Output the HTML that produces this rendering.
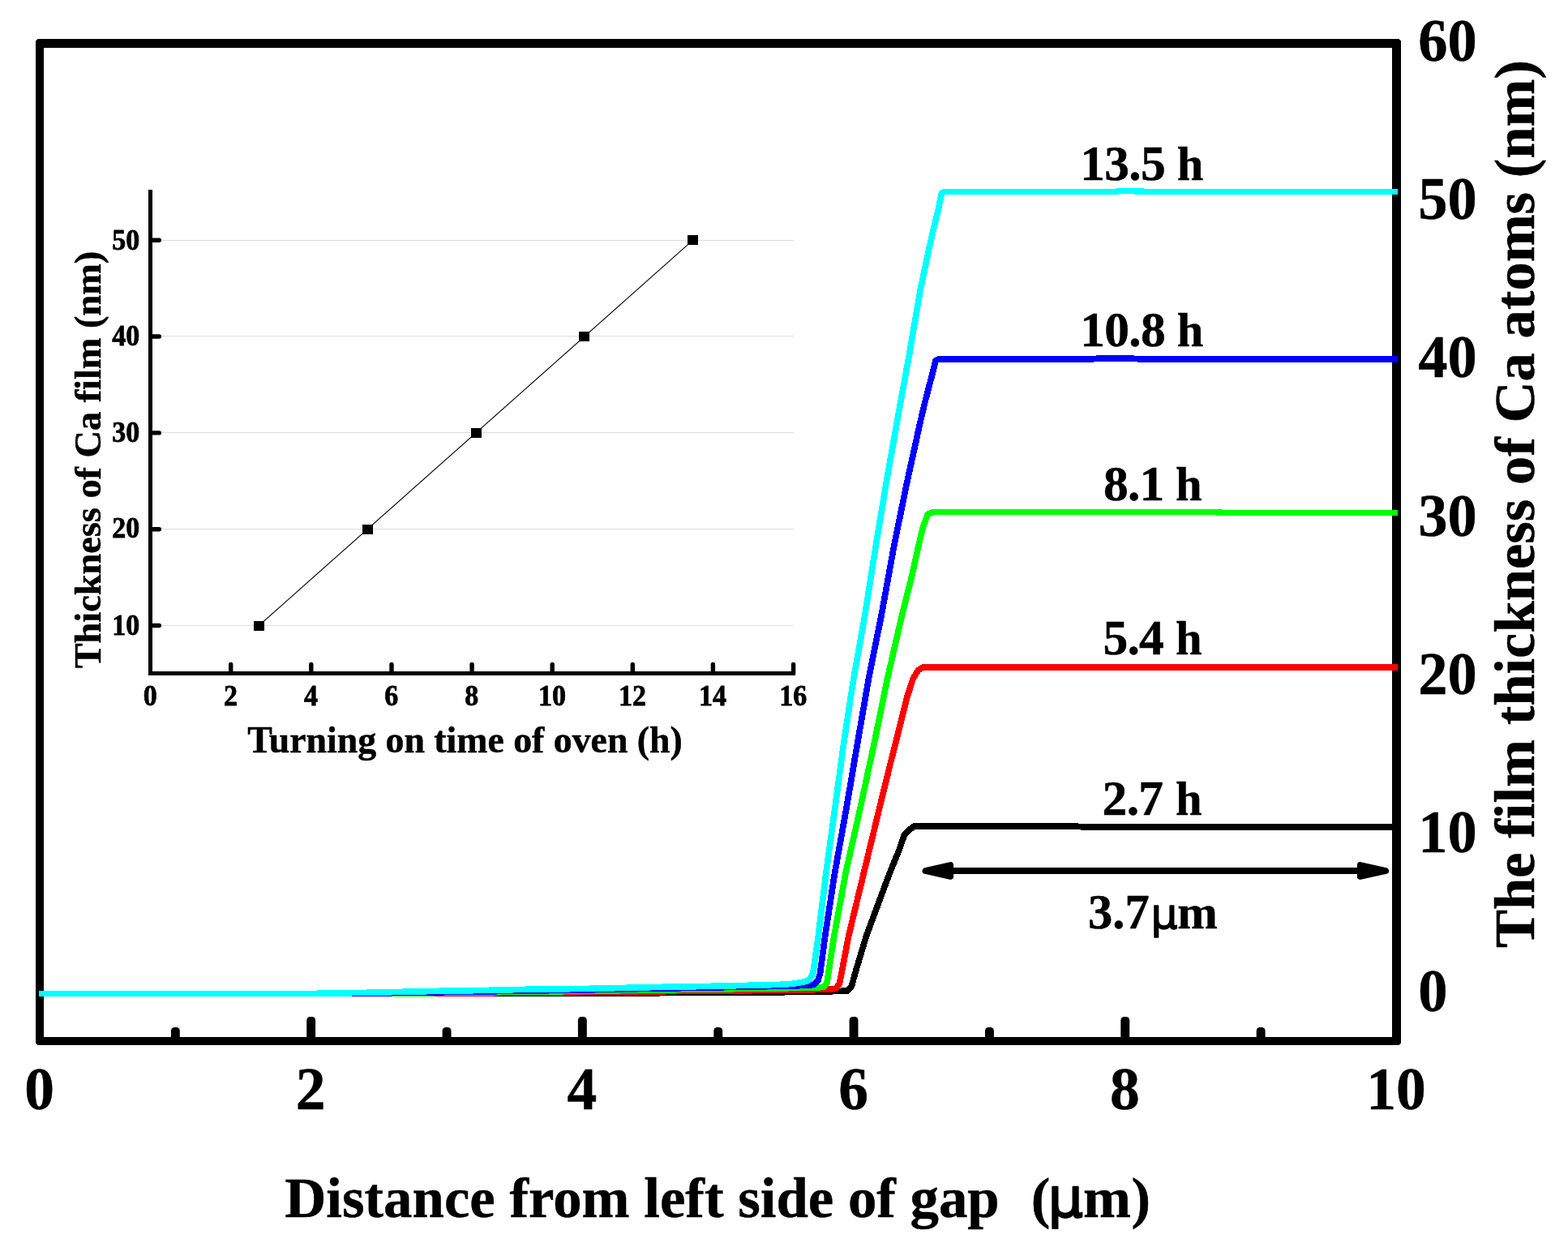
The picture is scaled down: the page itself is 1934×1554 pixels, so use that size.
<!DOCTYPE html>
<html lang="en">
<head>
<meta charset="utf-8">
<title>Figure</title>
<style>html,body{margin:0;padding:0;background:#fff;overflow:hidden}svg{display:block}text{stroke:#000;stroke-width:0.5px;stroke-linejoin:round}</style>
</head>
<body>
<svg width="1934" height="1554" viewBox="0 0 1934 1554" font-family="'Liberation Serif', serif" font-weight="bold" fill="#000">
<rect x="0" y="0" width="1934" height="1554" fill="#fff"/>
<g id="inset">
<rect x="199" y="771" width="780" height="1" fill="#dcdcdc"/>
<rect x="199" y="652" width="780" height="1" fill="#dcdcdc"/>
<rect x="199" y="533" width="780" height="1" fill="#dcdcdc"/>
<rect x="199" y="414" width="780" height="1" fill="#dcdcdc"/>
<rect x="199" y="296" width="780" height="1" fill="#dcdcdc"/>
<line x1="319.4" y1="771.5" x2="854.7" y2="296.2" stroke="#000" stroke-width="1.1"/>
<rect x="313" y="766" width="13" height="12" fill="#000"/>
<rect x="447" y="647" width="13" height="12" fill="#000"/>
<rect x="581" y="528" width="13" height="12" fill="#000"/>
<rect x="714" y="409" width="13" height="12" fill="#000"/>
<rect x="848" y="290" width="13" height="12" fill="#000"/>
<path d="M183 234 H188 V828 H981 V833 H183 Z" fill="#000" stroke="none" shape-rendering="crispEdges"/>
<line x1="186" y1="771.5" x2="196.3" y2="771.5" stroke="#000" stroke-width="5.4" stroke-linecap="round"/>
<line x1="186" y1="652.7" x2="196.3" y2="652.7" stroke="#000" stroke-width="5.4" stroke-linecap="round"/>
<line x1="186" y1="533.9" x2="196.3" y2="533.9" stroke="#000" stroke-width="5.4" stroke-linecap="round"/>
<line x1="186" y1="415.0" x2="196.3" y2="415.0" stroke="#000" stroke-width="5.4" stroke-linecap="round"/>
<line x1="186" y1="296.2" x2="196.3" y2="296.2" stroke="#000" stroke-width="5.4" stroke-linecap="round"/>
<line x1="284.7" y1="830" x2="284.7" y2="819.4" stroke="#000" stroke-width="5.4" stroke-linecap="round"/>
<line x1="383.8" y1="830" x2="383.8" y2="819.4" stroke="#000" stroke-width="5.4" stroke-linecap="round"/>
<line x1="483.0" y1="830" x2="483.0" y2="819.4" stroke="#000" stroke-width="5.4" stroke-linecap="round"/>
<line x1="582.1" y1="830" x2="582.1" y2="819.4" stroke="#000" stroke-width="5.4" stroke-linecap="round"/>
<line x1="681.2" y1="830" x2="681.2" y2="819.4" stroke="#000" stroke-width="5.4" stroke-linecap="round"/>
<line x1="780.3" y1="830" x2="780.3" y2="819.4" stroke="#000" stroke-width="5.4" stroke-linecap="round"/>
<line x1="879.4" y1="830" x2="879.4" y2="819.4" stroke="#000" stroke-width="5.4" stroke-linecap="round"/>
<line x1="978.6" y1="830" x2="978.6" y2="819.4" stroke="#000" stroke-width="5.4" stroke-linecap="round"/>
<text transform="translate(172.3 782.8) scale(0.93 1)" font-size="36.6" text-anchor="end" style="stroke-width:0.8px">10</text>
<text transform="translate(172.3 663.0) scale(0.93 1)" font-size="36.6" text-anchor="end" style="stroke-width:0.8px">20</text>
<text transform="translate(172.3 544.5) scale(0.93 1)" font-size="36.6" text-anchor="end" style="stroke-width:0.8px">30</text>
<text transform="translate(172.3 425.8) scale(0.93 1)" font-size="36.6" text-anchor="end" style="stroke-width:0.8px">40</text>
<text transform="translate(172.3 307.9) scale(0.93 1)" font-size="36.6" text-anchor="end" style="stroke-width:0.8px">50</text>
<text transform="translate(185.3 869.8) scale(0.93 1)" font-size="36.6" text-anchor="middle" style="stroke-width:0.8px">0</text>
<text transform="translate(284.4 869.8) scale(0.93 1)" font-size="36.6" text-anchor="middle" style="stroke-width:0.8px">2</text>
<text transform="translate(383.5 869.8) scale(0.93 1)" font-size="36.6" text-anchor="middle" style="stroke-width:0.8px">4</text>
<text transform="translate(482.7 869.8) scale(0.93 1)" font-size="36.6" text-anchor="middle" style="stroke-width:0.8px">6</text>
<text transform="translate(581.8 869.8) scale(0.93 1)" font-size="36.6" text-anchor="middle" style="stroke-width:0.8px">8</text>
<text transform="translate(680.9 869.8) scale(0.93 1)" font-size="36.6" text-anchor="middle" style="stroke-width:0.8px">10</text>
<text transform="translate(780.0 869.8) scale(0.93 1)" font-size="36.6" text-anchor="middle" style="stroke-width:0.8px">12</text>
<text transform="translate(879.1 869.8) scale(0.93 1)" font-size="36.6" text-anchor="middle" style="stroke-width:0.8px">14</text>
<text transform="translate(978.3 869.8) scale(0.93 1)" font-size="36.6" text-anchor="middle" style="stroke-width:0.8px">16</text>
<text x="573.6" y="928" font-size="45.8" text-anchor="middle">Turning on time of oven (h)</text>
<text transform="translate(124.2 567.1) rotate(-90) scale(0.998 1)" font-size="46.4" text-anchor="middle">Thickness of Ca film (nm)</text>
</g>
<g id="axes" fill="none" stroke="#000">
<path d="M46.5 48 H1725.5 L1728 50.5 V1286.5 L1725.5 1289 H46.5 L44 1286.5 V50.5 Z M54 59 V1279 H1717 V59 Z" fill="#000" fill-rule="evenodd" stroke="none"/>
<path d="M210.9 1282 V1271.4 a4.4 4.4 0 0 1 4.4 -4.4 h2.1 a4.4 4.4 0 0 1 4.4 4.4 V1282 Z" fill="#000" stroke="none"/>
<path d="M378.2 1282 V1258.4 a4.4 4.4 0 0 1 4.4 -4.4 h2.1 a4.4 4.4 0 0 1 4.4 4.4 V1282 Z" fill="#000" stroke="none"/>
<path d="M545.6 1282 V1271.4 a4.4 4.4 0 0 1 4.4 -4.4 h2.1 a4.4 4.4 0 0 1 4.4 4.4 V1282 Z" fill="#000" stroke="none"/>
<path d="M712.9 1282 V1258.4 a4.4 4.4 0 0 1 4.4 -4.4 h2.1 a4.4 4.4 0 0 1 4.4 4.4 V1282 Z" fill="#000" stroke="none"/>
<path d="M880.3 1282 V1271.4 a4.4 4.4 0 0 1 4.4 -4.4 h2.1 a4.4 4.4 0 0 1 4.4 4.4 V1282 Z" fill="#000" stroke="none"/>
<path d="M1047.6 1282 V1258.4 a4.4 4.4 0 0 1 4.4 -4.4 h2.1 a4.4 4.4 0 0 1 4.4 4.4 V1282 Z" fill="#000" stroke="none"/>
<path d="M1215.0 1282 V1271.4 a4.4 4.4 0 0 1 4.4 -4.4 h2.1 a4.4 4.4 0 0 1 4.4 4.4 V1282 Z" fill="#000" stroke="none"/>
<path d="M1382.3 1282 V1258.4 a4.4 4.4 0 0 1 4.4 -4.4 h2.1 a4.4 4.4 0 0 1 4.4 4.4 V1282 Z" fill="#000" stroke="none"/>
<path d="M1549.7 1282 V1271.4 a4.4 4.4 0 0 1 4.4 -4.4 h2.1 a4.4 4.4 0 0 1 4.4 4.4 V1282 Z" fill="#000" stroke="none"/>
</g>
<g id="curves" fill="none" stroke-width="7.7" stroke-linejoin="round" stroke-linecap="butt" shape-rendering="crispEdges">
<path d="M48.0 1225.5 L680.0 1225.5 L965.0 1223.7 L1020.0 1222.9 L1045.0 1222.1 L1050.5 1216.0 L1054.6 1200.8 L1068.5 1154.4 L1097.2 1077.2 L1109.8 1046.3 L1115.5 1029.5 L1121.0 1024.0 L1127.3 1019.0 L1326.0 1019.0 L1337.0 1020.0 L1724.0 1020.0" stroke="#000000"/>
<path d="M48.0 1225.5 L520.0 1225.5 L700.0 1223.8 L965.0 1221.3 L1020.0 1220.4 L1031.0 1219.5 L1035.5 1213.0 L1037.9 1200.8 L1046.7 1154.4 L1065.3 1077.2 L1083.9 1000.0 L1097.3 945.3 L1109.1 899.0 L1118.6 860.4 L1126.1 837.2 L1132.7 826.4 L1138.1 823.0 L1724.0 823.0" stroke="#ff0000"/>
<path d="M48.0 1225.5 L470.0 1225.5 L700.0 1222.6 L965.0 1218.8 L1006.0 1218.0 L1016.0 1217.4 L1020.0 1212.0 L1021.7 1200.8 L1028.8 1154.4 L1043.0 1077.2 L1060.3 1000.0 L1078.8 914.4 L1094.5 837.2 L1112.2 760.0 L1124.1 713.1 L1132.6 674.4 L1138.1 651.3 L1144.2 634.3 L1151.1 631.6 L1500.0 631.6 L1508.0 632.4 L1724.0 632.4" stroke="#00ff00"/>
<path d="M48.0 1225.5 L430.0 1225.5 L700.0 1221.3 L965.0 1216.3 L994.0 1215.4 L1004.0 1214.4 L1009.0 1209.0 L1011.5 1200.8 L1017.7 1154.4 L1029.5 1077.2 L1043.4 1000.0 L1058.0 914.4 L1071.4 837.2 L1086.9 760.0 L1102.5 674.4 L1118.2 597.2 L1135.2 520.0 L1140.8 496.2 L1148.9 465.3 L1154.1 444.5 L1158.0 443.0 L1344.0 443.0 L1356.0 442.1 L1395.0 442.1 L1408.0 443.0 L1724.0 443.0" stroke="#0000ff"/>
<path d="M48.0 1225.5 L366.0 1225.5 L388.3 1225.4 L450.3 1224.4 L494.2 1223.4 L538.0 1222.4 L600.9 1221.4 L643.9 1220.4 L724.8 1219.4 L769.5 1218.4 L814.2 1217.4 L875.4 1216.4 L920.1 1215.4 L961.4 1214.4 L978.0 1213.3 L988.0 1211.6 L996.0 1209.9 L1000.5 1205.0 L1002.7 1200.8 L1009.3 1154.4 L1018.8 1077.2 L1029.4 1000.0 L1041.0 914.4 L1052.8 837.2 L1066.6 760.0 L1080.1 674.4 L1092.8 597.2 L1106.5 520.0 L1121.6 437.0 L1127.7 400.8 L1135.5 355.8 L1145.6 308.1 L1152.0 280.0 L1156.6 261.8 L1161.4 238.6 L1164.1 236.5 L1376.0 236.5 L1380.0 235.6 L1398.0 235.6 L1413.0 236.5 L1724.0 236.5" stroke="#00ffff"/>
</g>
<g id="arrow">
<line x1="1170" y1="1074" x2="1680" y2="1074" stroke="#000" stroke-width="8"/>
<path d="M1141.4 1074 L1172.3 1066.9 V1081.1 Z" fill="#000" stroke="#000" stroke-width="7.6" stroke-linejoin="round"/>
<path d="M1709.3 1074 L1677.7 1066.9 V1081.1 Z" fill="#000" stroke="#000" stroke-width="7.6" stroke-linejoin="round"/>
</g>
<g id="labels" font-size="61.5">
<text x="1332.2" y="221.7" letter-spacing="-0.7">13.5 <tspan x="1451.7" font-size="58.6">h</tspan></text>
<text x="1332.2" y="427.1" letter-spacing="-0.7">10.8 <tspan x="1451.7" font-size="58.6">h</tspan></text>
<text x="1360.9" y="616.5" letter-spacing="-0.7">8.1 <tspan x="1450.0" font-size="58.6">h</tspan></text>
<text x="1360.4" y="807.3" letter-spacing="-0.7">5.4 <tspan x="1450.0" font-size="58.6">h</tspan></text>
<text x="1359.6" y="1004.5" letter-spacing="-0.7">2.7 <tspan x="1450.0" font-size="58.6">h</tspan></text>
<text x="1342" y="1144.9" font-size="60.5">3.7<tspan x="1419.4" font-family="'DejaVu Sans', 'Liberation Sans', sans-serif" font-weight="normal" font-size="52" style="stroke-width:1.4px">μ</tspan><tspan x="1452.3" font-size="59.5">m</tspan></text>
</g>
<g id="ticklabels" font-size="73.5">
<text x="48.5" y="1367.9" text-anchor="middle">0</text>
<text x="383.2" y="1367.9" text-anchor="middle">2</text>
<text x="717.9" y="1367.9" text-anchor="middle">4</text>
<text x="1052.6" y="1367.9" text-anchor="middle">6</text>
<text x="1387.3" y="1367.9" text-anchor="middle">8</text>
<text x="1722.0" y="1367.9" text-anchor="middle">10</text>
<text transform="translate(1749.3 75.0) scale(0.985 1)">60</text>
<text transform="translate(1749.3 270.0) scale(0.985 1)">50</text>
<text transform="translate(1749.3 465.3) scale(0.985 1)">40</text>
<text transform="translate(1749.3 660.7) scale(0.985 1)">30</text>
<text transform="translate(1749.3 855.6) scale(0.985 1)">20</text>
<text transform="translate(1749.3 1050.6) scale(0.985 1)">10</text>
<text transform="translate(1749.3 1247.3) scale(0.985 1)">0</text>
</g>
<text x="351.2" y="1501.3" font-size="70.8" style="white-space:pre">Distance from left side of gap  <tspan x="1271.8">(</tspan><tspan x="1292.4" font-family="'DejaVu Sans', 'Liberation Sans', sans-serif" font-weight="normal" font-size="68.5" style="stroke-width:2px">μ</tspan><tspan x="1336">m</tspan><tspan x="1395.5">)</tspan></text>
<text transform="translate(1892.2 621.6) rotate(-90) scale(0.998 1)" font-size="70.8" text-anchor="middle">The film thickness of Ca atoms (nm)</text>
</svg>
</body>
</html>
